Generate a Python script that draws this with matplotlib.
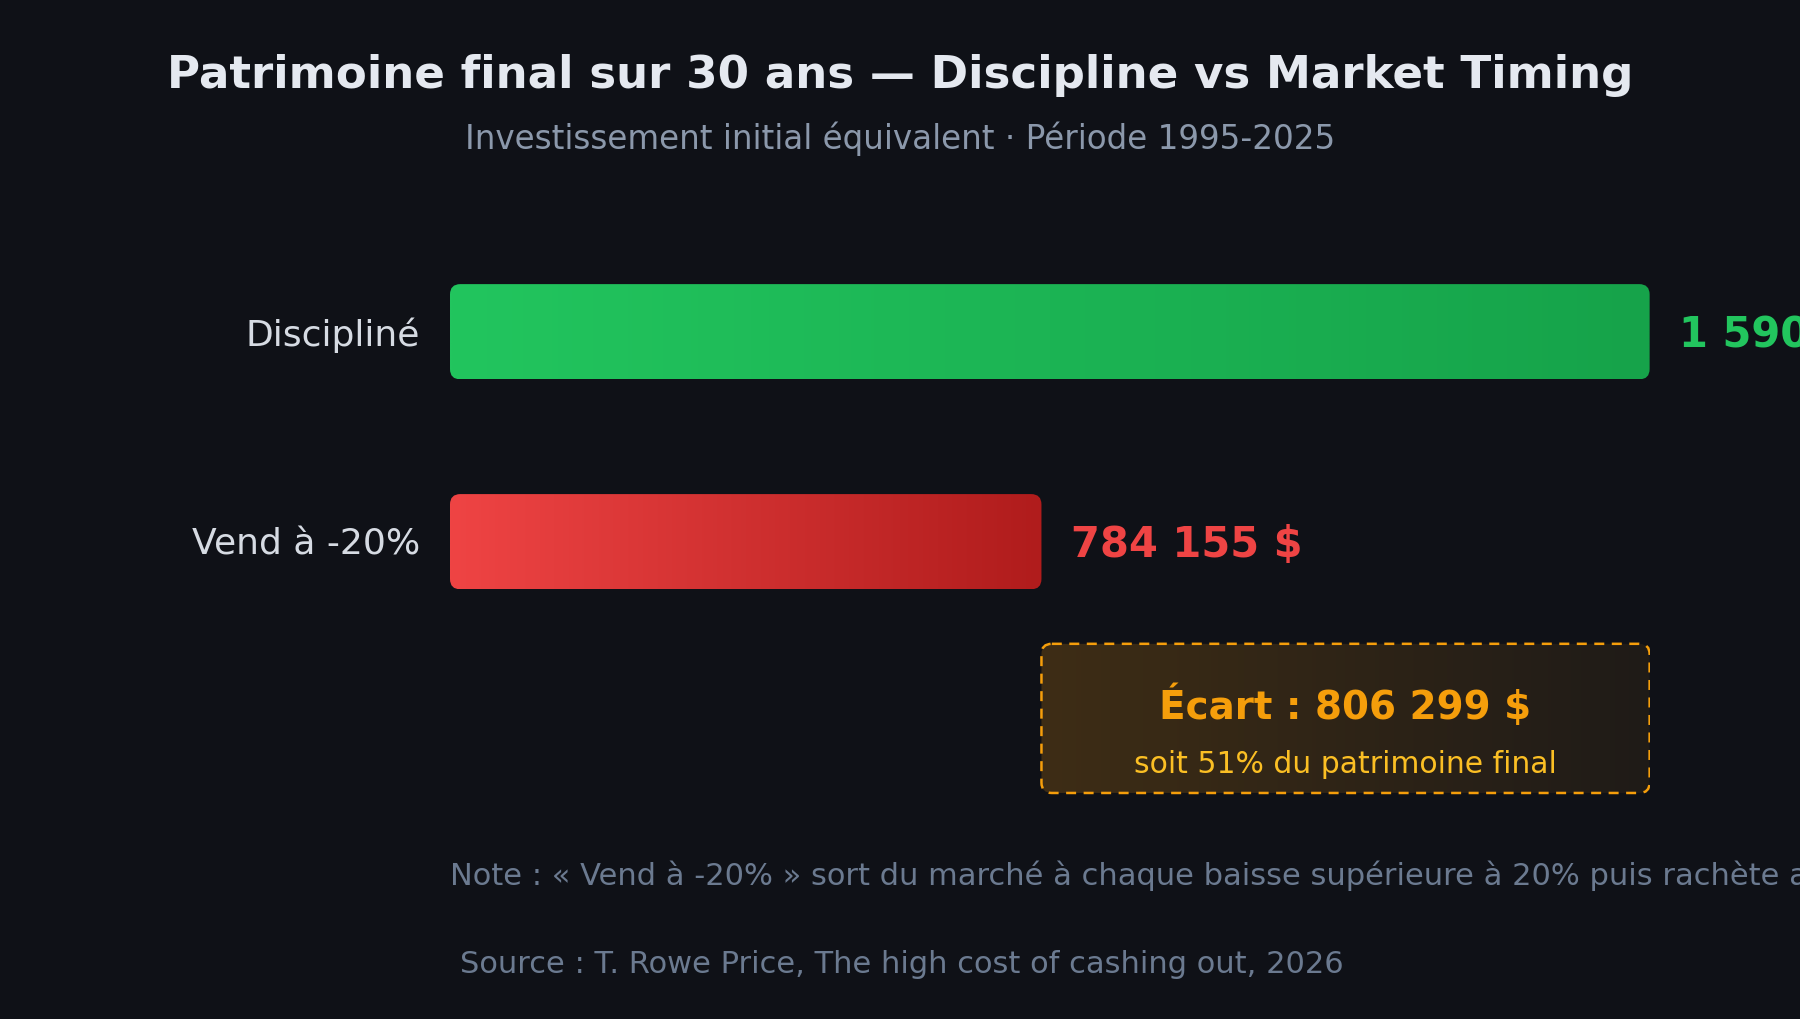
import numpy as np
import matplotlib
matplotlib.use("Agg")
import matplotlib.pyplot as plt
from matplotlib.patches import FancyBboxPatch

categories = ["Discipliné", "Vend à -20%"]
values = [1590454, 784155]
value_labels = ["1 590 454 $", "784 155 $"]
gap_label = "Écart : 806 299 $"
gap_sub = "soit 51% du patrimoine final"
title = "Patrimoine final sur 30 ans — Discipline vs Market Timing"
subtitle = "Investissement initial équivalent · Période 1995-2025"
note = "Note : « Vend à -20% » sort du marché à chaque baisse supérieure à 20% puis rachète après un rebond"
source = "Source : T. Rowe Price, The high cost of cashing out, 2026"

BG = "#0f1117"
W, H = 1568, 889
fig = plt.figure(figsize=(18, 10.2), dpi=100, facecolor=BG)
fx = lambda x: x / W
fy = lambda y: 1 - y / H

ax = fig.add_axes([fx(392), 0, fx(1437) - fx(392), 1])
ax.set_facecolor("none")
ax.axis("off")
vmax = max(values)
ax.set_xlim(0, vmax)
ax.set_ylim(H, 0)
xpp = vmax / 1045.0
ypos = [290, 473]
bh = 83
grads = [("#22c55e", "#16a34a"), ("#ef4444", "#b01c1c")]
vcols = ["#22c55e", "#ef4444"]

def grad_box(x0, y0, w, h, c1, c2, r=9, edge=None, ls="-"):
    p = FancyBboxPatch((x0, y0), w, h, boxstyle=f"round,pad=0,rounding_size={r * xpp}",
                       mutation_aspect=1 / xpp, facecolor="none",
                       edgecolor=edge if edge else "none", lw=1.8, linestyle=ls, zorder=3)
    ax.add_patch(p)
    a = np.array(matplotlib.colors.to_rgb(c1)); b = np.array(matplotlib.colors.to_rgb(c2))
    t = np.linspace(0, 1, 256)[None, :, None]
    img = a + (b - a) * t
    im = ax.imshow(img, extent=[x0, x0 + w, y0 + h, y0], aspect="auto", zorder=2, interpolation="bilinear")
    im.set_clip_path(p)
    return p

for cat, v, lab, y, (c1, c2), vc in zip(categories, values, value_labels, ypos, grads, vcols):
    grad_box(0, y - bh / 2, v, bh, c1, c2)
    ax.text(-26 * xpp, y + 2, cat, ha="right", va="center", fontsize=26, color="#d6dbe3", clip_on=False)
    ax.text(v + 26 * xpp, y + 2, lab, ha="left", va="center", fontsize=30, color=vc,
            fontweight="bold", clip_on=False)

# gap box
gx0, gx1 = values[1], values[0]
grad_box(gx0, 562, gx1 - gx0, 130, "#3e2d15", "#1f1b18", r=9, edge="#f59e0b", ls=(0, (4, 3)))
gc = (gx0 + gx1) / 2
ax.text(gc, 615, gap_label, ha="center", va="center", fontsize=28, color="#f59e0b", fontweight="bold", zorder=4)
ax.text(gc, 666, gap_sub, ha="center", va="center", fontsize=21.5, color="#fbbf24", zorder=4)

fig.text(0.5, fy(66), title, ha="center", va="center", fontsize=32.5, color="#e5e9f0", fontweight="bold")
fig.text(0.5, fy(121), subtitle, ha="center", va="center", fontsize=23.5, color="#8b98ab")
fig.text(fx(392), fy(763), note, ha="left", va="center", fontsize=22, color="#6b7a90")
fig.text(fx(401), fy(841), source, ha="left", va="center", fontsize=22, color="#6b7a90")

fig.savefig("out.png", dpi=100, facecolor=BG)
